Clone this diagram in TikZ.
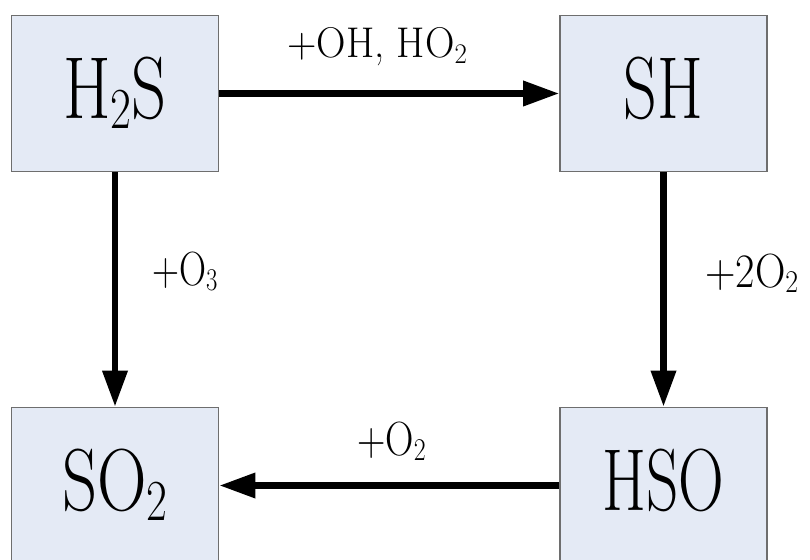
\documentclass[tikz,border=0pt]{standalone}
\usetikzlibrary{arrows.meta}
\definecolor{boxfill}{RGB}{228,234,245}
\definecolor{boxline}{RGB}{110,110,110}
% horizontally condensed text
\newcommand{\narrowtext}[2]{\scalebox{#1}[1]{#2}}
% chemical subscript in the current text font
\newcommand{\lowsub}[1]{\raisebox{-0.12em}{\scalebox{0.66}{#1}}}

\begin{document}
\begin{tikzpicture}[x=1pt,y=-1pt,
  species/.style={draw=boxline, fill=boxfill, line width=1.6pt,
    minimum width=207pt, minimum height=156pt, inner sep=0pt,
    text height=60pt, text depth=11pt, font=\fontsize{88}{88}\selectfont},
  flow/.style={line width=6.5pt, -{Triangle[length=36pt,width=24pt]}},
  reagent/.style={inner sep=0pt, anchor=base west, font=\fontsize{48}{48}\selectfont}]
\clip (0,0) rectangle (810,559);
\fill[white] (0,0) rectangle (810,559);

% species boxes
\node[species] (h2s) at (115,93.5)  {\narrowtext{0.78}{H\lowsub{2}S}};
\node[species] (sh)  at (663.5,93.5) {\narrowtext{0.75}{SH}};
\node[species] (so2) at (115,485.5) {\narrowtext{0.78}{SO\lowsub{2}}};
\node[species] (hso) at (663.5,485.5) {\narrowtext{0.72}{HSO}};

% reaction steps
\draw[flow] (h2s.east) -- (sh.west);
\draw[flow] (h2s.south) -- (so2.north);
\draw[flow] (sh.south) -- (hso.north);
\draw[flow] (hso.west) -- (so2.east);

% reagents
\node[reagent, font=\fontsize{43}{43}\selectfont] (r1) at (287,58) {\narrowtext{0.95}{+OH, HO\lowsub{2}}};
\node[reagent] (r2) at (152,285) {\narrowtext{0.78}{+O\lowsub{3}}};
\node[reagent] (r3) at (705,287) {\narrowtext{0.88}{+2O\lowsub{2}}};
\node[reagent] (r4) at (357,455) {\narrowtext{0.82}{+O\lowsub{2}}};
\end{tikzpicture}
\end{document}
